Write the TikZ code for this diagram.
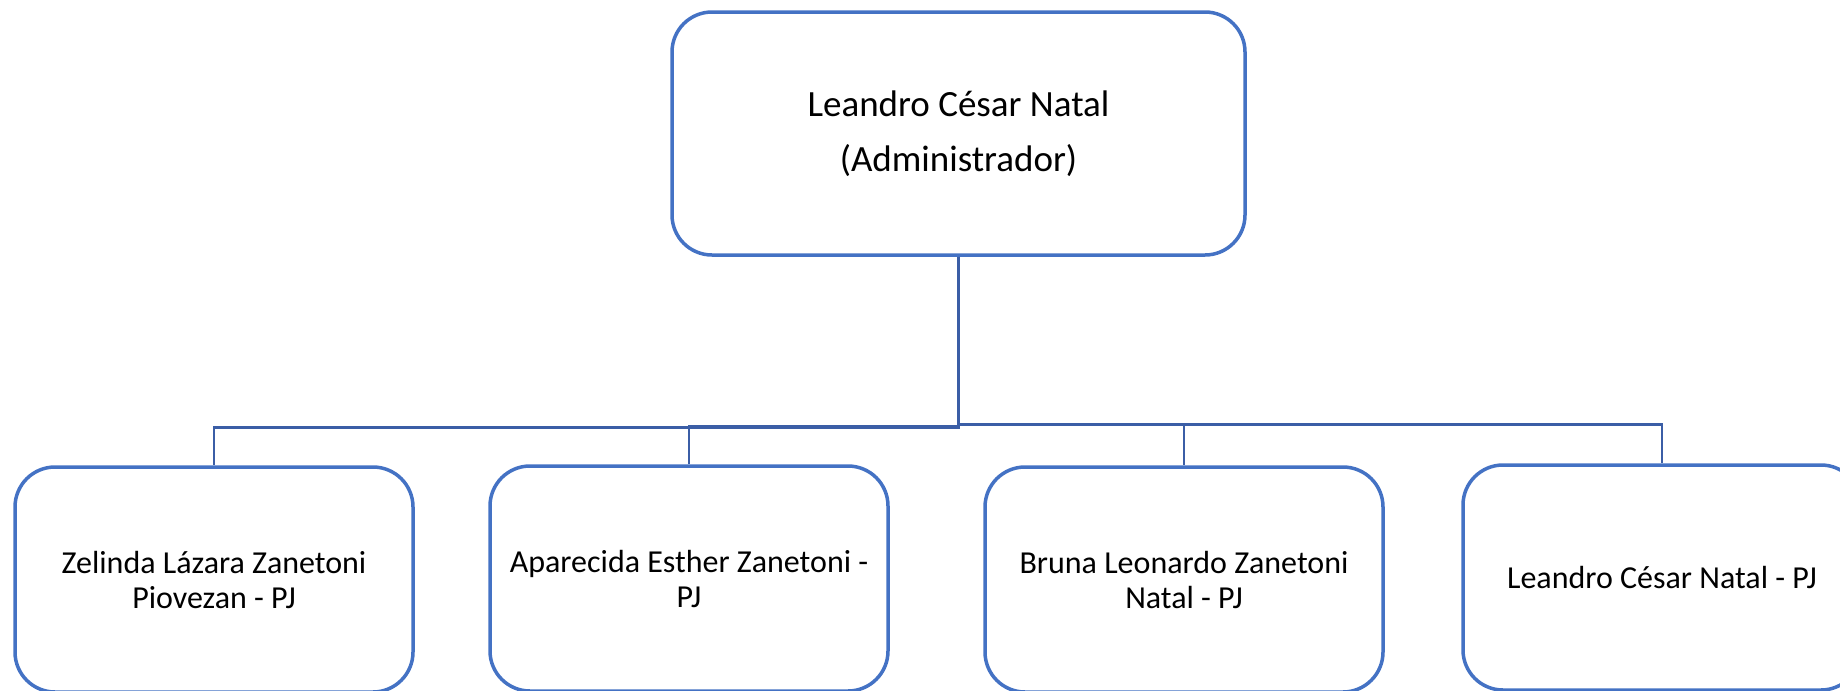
\documentclass[tikz,border=0pt]{standalone}
\usepackage{fontspec}
\setmainfont{Carlito}
\definecolor{boxblue}{HTML}{4472C4}
\definecolor{linkblue}{HTML}{3B5EA6}
\tikzset{
  topbox/.style={draw=boxblue, line width=3.5pt, rounded corners=40pt, fill=white,
    minimum width=573pt, minimum height=243pt, inner sep=0pt, align=center,
    font=\fontsize{37}{55}\selectfont},
  childbox/.style={draw=boxblue, line width=3.5pt, rounded corners=40pt, fill=white,
    minimum width=398pt, minimum height=225pt, inner sep=0pt, align=center,
    font=\fontsize{32}{35}\selectfont},
  link/.style={draw=linkblue, line width=2.6pt}
}
\begin{document}
\begin{tikzpicture}[x=1pt,y=-1pt]
\useasboundingbox (0,0) rectangle (1840,691);
\clip (0,0) rectangle (1840,691);
\node[topbox] (top) at (958.5,133.5) {Leandro César Natal\\(Administrador)};
\node[childbox] (c1) at (214,579.5) {Zelinda Lázara Zanetoni\\Piovezan - PJ};
\node[childbox] (c2) at (689,578.5) {Aparecida Esther Zanetoni -\\PJ};
\node[childbox] (c3) at (1184,579.5) {Bruna Leonardo Zanetoni\\Natal - PJ};
\node[childbox] (c4) at (1662,577.5) {Leandro César Natal - PJ};
\draw[link] (top.south) -- ++(0,170.5) -| (c1.north);
\draw[link] (top.south) -- ++(0,169.5) -| (c2.north);
\draw[link] (top.south) -- ++(0,168) -| (c3.north);
\draw[link] (top.south) -- ++(0,168) -| (c4.north);
\end{tikzpicture}
\end{document}
